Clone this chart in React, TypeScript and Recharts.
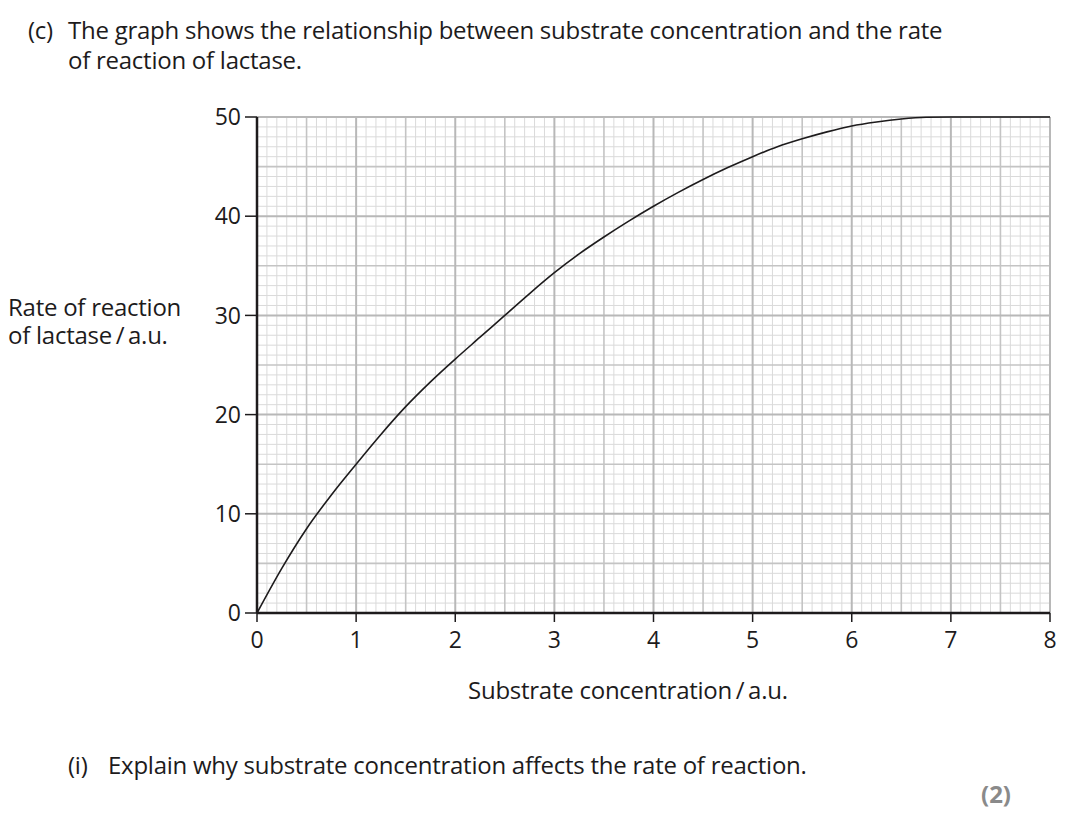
import { LineChart, Line, XAxis, YAxis, ReferenceLine } from 'recharts'

// substrate concentration / a.u.
const concentration = [
  0, 0.25, 0.5, 0.75, 1, 1.25, 1.5, 1.75, 2, 2.25, 2.5, 2.75, 3, 3.25, 3.5, 3.75, 4, 4.25, 4.5, 4.75, 5, 5.25, 5.5,
  5.75, 6, 6.25, 6.5, 6.75, 7, 7.5, 8,
]
// rate of reaction of lactase / a.u.
const rate = [
  0, 4.5, 8.5, 11.9, 15.0, 18.0, 20.8, 23.3, 25.6, 27.8, 30.0, 32.2, 34.3, 36.2, 37.9, 39.5, 41.0, 42.4, 43.7, 44.9,
  46.0, 47.0, 47.8, 48.5, 49.1, 49.5, 49.8, 49.97, 50, 50, 50,
]

const xTicks = [0, 1, 2, 3, 4, 5, 6, 7, 8]
const yTicks = [0, 10, 20, 30, 40, 50]

const data = concentration.map((x, i) => ({ x, rate: rate[i] }))

// graph paper: minor every 0.1 / 1, medium every 0.5 / 5, major every 1 / 10
const xMinor = Array.from({ length: 81 }, (_, i) => i)
  .filter((i) => i > 0 && i % 5 !== 0)
  .map((i) => i / 10)
const xMedium = [0.5, 1.5, 2.5, 3.5, 4.5, 5.5, 6.5, 7.5]
const xMajor = [1, 2, 3, 4, 5, 6, 7, 8]
const yMinor = Array.from({ length: 51 }, (_, i) => i).filter((v) => v > 0 && v % 5 !== 0)
const yMedium = [5, 15, 25, 35, 45]
const yMajor = [10, 20, 30, 40, 50]

const ink = '#1d1b1c'
const font = '"Open Sans", sans-serif'

const textStyle = {
  position: 'absolute' as const,
  fontFamily: font,
  fontSize: 24,
  lineHeight: '30px',
  color: ink,
  letterSpacing: -0.25,
  whiteSpace: 'nowrap' as const,
}

export default function App() {
  return (
    <div style={{ position: 'absolute', left: 0, top: 0, width: 1080, height: 813, background: '#fff', overflow: 'hidden' }}>
      <div style={{ ...textStyle, left: 28, top: 15 }}>(c)</div>
      <div style={{ ...textStyle, left: 68, top: 15 }}>
        The graph shows the relationship between substrate concentration and the rate
      </div>
      <div style={{ ...textStyle, left: 68, top: 45 }}>of reaction of lactase.</div>

      <div style={{ position: 'absolute', left: 0, top: 0 }}>
        <LineChart width={1080} height={700} data={data} margin={{ top: 117, right: 30, left: 0, bottom: 47 }}>
          <XAxis
            dataKey="x"
            type="number"
            domain={[0, 8]}
            ticks={xTicks}
            interval={0}
            height={40}
            tickSize={9}
            tickMargin={10}
            axisLine={{ stroke: ink, strokeWidth: 2.5 }}
            tickLine={{ stroke: ink, strokeWidth: 1.5 }}
            tick={{ fontSize: 23, fill: ink, fontFamily: font }}
          />
          <YAxis
            type="number"
            domain={[0, 50]}
            ticks={yTicks}
            interval={0}
            width={257}
            tickSize={12}
            tickMargin={4}
            axisLine={{ stroke: ink, strokeWidth: 2.5 }}
            tickLine={{ stroke: ink, strokeWidth: 1.5 }}
            tick={{ fontSize: 23, fill: ink, fontFamily: font }}
          />
          {xMinor.map((v) => (
            <ReferenceLine key={'xm' + v} x={v} stroke="#dadada" strokeWidth={1} />
          ))}
          {yMinor.map((v) => (
            <ReferenceLine key={'ym' + v} y={v} stroke="#dadada" strokeWidth={1} />
          ))}
          {xMedium.map((v) => (
            <ReferenceLine key={'xd' + v} x={v} stroke="#c4c4c4" strokeWidth={1.6} />
          ))}
          {yMedium.map((v) => (
            <ReferenceLine key={'yd' + v} y={v} stroke="#c4c4c4" strokeWidth={1.6} />
          ))}
          {xMajor.map((v) => (
            <ReferenceLine key={'xM' + v} x={v} stroke="#b8b8b8" strokeWidth={2} />
          ))}
          {yMajor.map((v) => (
            <ReferenceLine key={'yM' + v} y={v} stroke="#b8b8b8" strokeWidth={2} />
          ))}
          <Line
            type="monotone"
            dataKey="rate"
            stroke={ink}
            strokeWidth={1.6}
            dot={false}
            activeDot={false}
            isAnimationActive={false}
          />
        </LineChart>
      </div>

      <div style={{ ...textStyle, left: 8, top: 294, lineHeight: '26px' }}>Rate of reaction</div>
      <div style={{ ...textStyle, left: 8, top: 322, lineHeight: '26px' }}>of lactase{'\u2009/\u2009'}a.u.</div>
      <div style={{ ...textStyle, left: 468, top: 675 }}>Substrate concentration{'\u2009/\u2009'}a.u.</div>

      <div style={{ ...textStyle, left: 68, top: 750 }}>(i)</div>
      <div style={{ ...textStyle, left: 108, top: 750 }}>Explain why substrate concentration affects the rate of reaction.</div>
      <div style={{ ...textStyle, left: 981, top: 779, fontWeight: 700, color: '#8a8a8a', letterSpacing: 0 }}>(2)</div>
    </div>
  )
}
